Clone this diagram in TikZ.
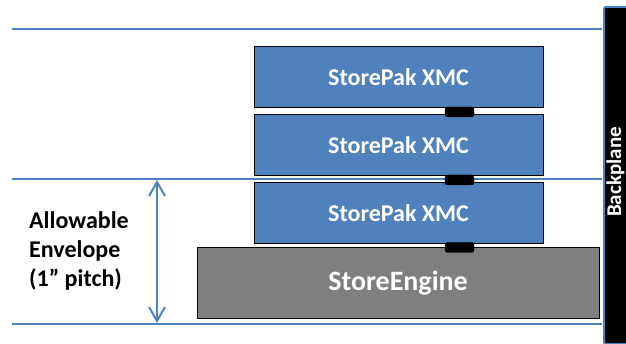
\documentclass[tikz,border=0pt]{standalone}
\usepackage{fontspec}
\setmainfont{Carlito}
\usetikzlibrary{arrows.meta}
\definecolor{lineblue}{HTML}{4F81BD}
\definecolor{boxblue}{HTML}{4F81BD}
\definecolor{enginegray}{HTML}{7F7F7F}
\begin{document}
\begin{tikzpicture}[x=1pt,y=-1pt,
  envline/.style={draw=lineblue,line width=1.5pt},
  xmcbox/.style={draw=black,line width=1pt,fill=boxblue,text=white,font=\fontsize{24}{29}\selectfont\bfseries,minimum width=289pt,minimum height=61pt,inner sep=0pt},
  enginebox/.style={draw=black,line width=1pt,fill=enginegray,text=white,font=\fontsize{28}{33}\selectfont\bfseries,minimum width=402pt,minimum height=71pt,inner sep=0pt},
  conn/.style={draw=black,fill=black,rounded corners=2.5pt,minimum width=29pt,minimum height=10pt,inner sep=0pt},
  dimarrow/.style={draw=lineblue,line width=2pt,{Straight Barb[length=14pt,width=16pt]}-{Straight Barb[length=14pt,width=16pt]}}
]
\useasboundingbox (0,0) rectangle (626,344);
% backplane
\node[draw=lineblue,line width=2pt,fill=black,rounded corners=2pt,minimum width=30pt,minimum height=337pt,inner sep=0pt,anchor=north west] (bp) at (603,6) {};
\node[rotate=90,text=white,font=\fontsize{21}{25}\selectfont\bfseries,inner sep=0pt] (bptext) at (615.5,172) {Backplane};
% envelope lines
\coordinate (t1) at (12,29);
\coordinate (t2) at (602,29);
\coordinate (m1) at (12,179);
\coordinate (m2) at (602,179);
\coordinate (b1) at (12,324);
\coordinate (b2) at (602,324);
\draw[envline] (t1) -- (t2);
\draw[envline] (m1) -- (m2);
\draw[envline] (b1) -- (b2);
% boxes
\node[xmcbox] (x1) at (398.5,77.5) {StorePak XMC};
\node[xmcbox] (x2) at (398.5,145.5) {StorePak XMC};
\node[xmcbox] (x3) at (398.5,213.5) {StorePak XMC};
\node[enginebox] (se) at (398,283.5) {StoreEngine};
% connectors
\node[conn] (c1) at (459.5,112) {};
\node[conn] (c2) at (459.5,180) {};
\node[conn] (c3) at (459.5,247.5) {};
% dimension arrow
\coordinate (a1) at (157,180);
\coordinate (a2) at (157,323);
\draw[dimarrow] (a1) -- (a2);
\node[anchor=west,align=left,font=\fontsize{24}{29}\selectfont\bfseries,inner sep=0pt] (env) at (29,251) {Allowable\\Envelope\\(1” pitch)};
\end{tikzpicture}
\end{document}
